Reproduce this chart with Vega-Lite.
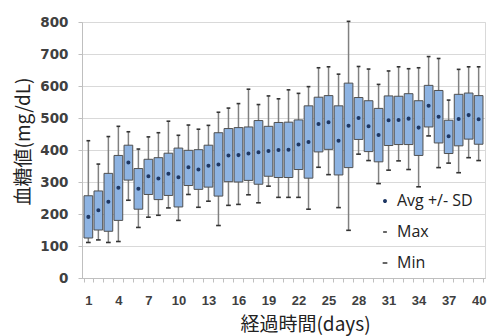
{
  "$schema": "https://vega.github.io/schema/vega-lite/v6.json",
  "width": 403,
  "height": 256,
  "autosize": {"type": "none"},
  "padding": {"left": 82, "top": 22, "right": 3, "bottom": 58},
  "background": "white",
  "config": {"view": {"stroke": "#d9d9d9"}},
  "data": {"values": [
    {"day": 1, "min": 111, "lo": 125, "avg": 191, "hi": 257, "max": 429},
    {"day": 2, "min": 119, "lo": 150, "avg": 212, "hi": 272, "max": 356},
    {"day": 3, "min": 111, "lo": 146, "avg": 238, "hi": 327, "max": 442},
    {"day": 4, "min": 114, "lo": 180, "avg": 282, "hi": 383, "max": 474},
    {"day": 5, "min": 243, "lo": 306, "avg": 361, "hi": 415, "max": 457},
    {"day": 6, "min": 158, "lo": 215, "avg": 279, "hi": 342, "max": 403},
    {"day": 7, "min": 190, "lo": 261, "avg": 318, "hi": 371, "max": 441},
    {"day": 8, "min": 196, "lo": 245, "avg": 311, "hi": 376, "max": 454},
    {"day": 9, "min": 219, "lo": 258, "avg": 326, "hi": 390, "max": 490},
    {"day": 10, "min": 180, "lo": 222, "avg": 315, "hi": 406, "max": 446},
    {"day": 11, "min": 261, "lo": 289, "avg": 346, "hi": 399, "max": 478},
    {"day": 12, "min": 221, "lo": 277, "avg": 339, "hi": 401, "max": 465},
    {"day": 13, "min": 240, "lo": 284, "avg": 351, "hi": 415, "max": 477},
    {"day": 14, "min": 164, "lo": 256, "avg": 355, "hi": 454, "max": 518},
    {"day": 15, "min": 227, "lo": 301, "avg": 383, "hi": 467, "max": 531},
    {"day": 16, "min": 230, "lo": 300, "avg": 384, "hi": 470, "max": 545},
    {"day": 17, "min": 260, "lo": 305, "avg": 389, "hi": 472, "max": 590},
    {"day": 18, "min": 235, "lo": 293, "avg": 393, "hi": 492, "max": 542},
    {"day": 19, "min": 287, "lo": 318, "avg": 397, "hi": 474, "max": 569},
    {"day": 20, "min": 252, "lo": 314, "avg": 400, "hi": 486, "max": 560},
    {"day": 21, "min": 252, "lo": 314, "avg": 401, "hi": 487, "max": 588},
    {"day": 22, "min": 252, "lo": 339, "avg": 417, "hi": 494, "max": 577},
    {"day": 23, "min": 215, "lo": 312, "avg": 425, "hi": 538, "max": 598},
    {"day": 24, "min": 346, "lo": 394, "avg": 481, "hi": 565, "max": 657},
    {"day": 25, "min": 323, "lo": 402, "avg": 487, "hi": 570, "max": 660},
    {"day": 26, "min": 220, "lo": 322, "avg": 429, "hi": 538, "max": 637},
    {"day": 27, "min": 149, "lo": 345, "avg": 476, "hi": 609, "max": 802},
    {"day": 28, "min": 387, "lo": 433, "avg": 500, "hi": 564, "max": 661},
    {"day": 29, "min": 367, "lo": 395, "avg": 474, "hi": 554, "max": 653},
    {"day": 30, "min": 295, "lo": 363, "avg": 447, "hi": 530, "max": 605},
    {"day": 31, "min": 337, "lo": 414, "avg": 493, "hi": 569, "max": 647},
    {"day": 32, "min": 366, "lo": 417, "avg": 494, "hi": 568, "max": 660},
    {"day": 33, "min": 339, "lo": 417, "avg": 498, "hi": 576, "max": 654},
    {"day": 34, "min": 285, "lo": 383, "avg": 470, "hi": 554, "max": 657},
    {"day": 35, "min": 444, "lo": 472, "avg": 538, "hi": 602, "max": 692},
    {"day": 36, "min": 345, "lo": 422, "avg": 504, "hi": 586, "max": 686},
    {"day": 37, "min": 359, "lo": 389, "avg": 443, "hi": 493, "max": 556},
    {"day": 38, "min": 329, "lo": 413, "avg": 497, "hi": 574, "max": 652},
    {"day": 39, "min": 376, "lo": 434, "avg": 509, "hi": 578, "max": 660},
    {"day": 40, "min": 367, "lo": 418, "avg": 496, "hi": 570, "max": 660}
  ]},
  "encoding": {
    "x": {
      "field": "day", "type": "ordinal", "sort": "ascending",
      "scale": {"paddingInner": 0.13, "paddingOuter": 0.2},
      "axis": {
        "title": "経過時間(days)",
        "labelAngle": 0,
        "labelOverlap": false,
        "labelExpr": "(datum.value - 1) % 3 === 0 ? datum.label : ''",
        "tickBand": "extent",
        "tickColor": "#bfbfbf",
        "tickSize": 4,
        "domainColor": "#bfbfbf",
        "labelFont": "Liberation Sans",
        "labelFontWeight": "bold",
        "labelFontSize": 13,
        "labelColor": "#404040",
        "labelPadding": 12,
        "titleFont": "Noto Sans CJK JP",
        "titleFontSize": 19,
        "titleFontWeight": "normal",
        "titleColor": "#222222",
        "titleX": 223,
        "titleY": 46,
        "titleBaseline": "middle",
        "titleAlign": "center"
      }
    },
    "y": {
      "field": "min", "type": "quantitative",
      "scale": {"domain": [0, 800]},
      "axis": {
        "title": "血糖値(mg/dL)",
        "values": [0, 100, 200, 300, 400, 500, 600, 700, 800],
        "tickCount": 12,
        "labelOverlap": false,
        "grid": true,
        "gridColor": "#d9d9d9",
        "domainColor": "#bfbfbf",
        "tickColor": "#bfbfbf",
        "tickSize": 4,
        "labelFont": "DejaVu Sans",
        "labelFontWeight": "bold",
        "labelFontSize": 13.5,
        "labelColor": "#404040",
        "labelPadding": 10,
        "titleFont": "Noto Sans CJK JP",
        "titleFontSize": 19,
        "titleFontWeight": "normal",
        "titleColor": "#222222",
        "titleX": -59,
        "titleY": 119,
        "titleAngle": 270,
        "titleBaseline": "middle",
        "titleAlign": "center"
      }
    }
  },
  "layer": [
    {
      "mark": {"type": "rule", "color": "#808080", "strokeWidth": 1.5},
      "encoding": {
        "y2": {"field": "max"}
      }
    },
    {
      "mark": {"type": "bar", "fill": "#8db3e2", "stroke": "#505050", "strokeWidth": 1},
      "encoding": {
        "y": {"field": "lo", "type": "quantitative", "title": "血糖値(mg/dL)"},
        "y2": {"field": "hi"}
      }
    },
    {
      "transform": [{"fold": ["avg", "max", "min"], "as": ["key", "val"]}],
      "mark": {"type": "point", "filled": true, "opacity": 1, "strokeWidth": 1.6},
      "encoding": {
        "y": {"field": "val", "type": "quantitative", "title": "血糖値(mg/dL)"},
        "shape": {
          "field": "key", "type": "nominal",
          "scale": {"domain": ["avg", "max", "min"], "range": ["circle", "stroke", "stroke"]},
          "legend": {
            "orient": "none",
            "legendX": 295,
            "legendY": 171,
            "title": null,
            "padding": 0,
            "labelFont": "Open Sans",
            "labelFontSize": 16,
            "labelColor": "#222222",
            "labelOffset": 4,
            "rowPadding": 15,
            "labelExpr": "datum.label === 'avg' ? 'Avg +/- SD' : datum.label === 'max' ? 'Max' : 'Min'"
          }
        },
        "fill": {
          "field": "key", "type": "nominal",
          "scale": {"domain": ["avg", "max", "min"], "range": ["#1f3864", "#333333", "#333333"]}
        },
        "stroke": {
          "field": "key", "type": "nominal",
          "scale": {"domain": ["avg", "max", "min"], "range": ["#1f3864", "#333333", "#333333"]}
        },
        "size": {
          "field": "key", "type": "nominal",
          "scale": {"domain": ["avg", "max", "min"], "range": [6, 22, 22]}
        }
      }
    }
  ]
}
